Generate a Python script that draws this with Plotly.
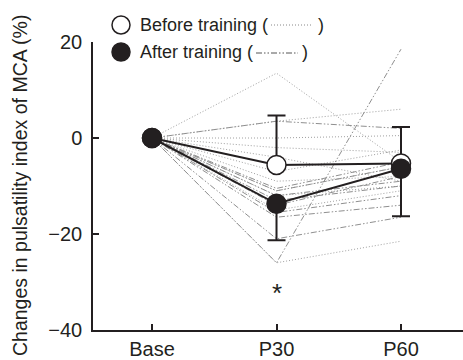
import plotly.graph_objects as go

categories = ["Base", "P30", "P60"]

# individual subjects (before training, dotted)
before_subjects = [
    [0, 13.5, -5],
    [0, 3.5, 6],
    [0, 0, 0.5],
    [0, -2, -3],
    [0, -4, -9],
    [0, -7, -2.5],
    [0, -9, -8],
    [0, -11, -6],
    [0, -12, -10],
    [0, -15, -11],
    [0, -26, -21.5],
]
# individual subjects (after training, dash-dot)
after_subjects = [
    [0, 3.5, 2],
    [0, -10.5, -5],
    [0, -11, -6],
    [0, -12, -9],
    [0, -13, -10],
    [0, -14, -8],
    [0, -15.5, -12],
    [0, -16.5, -14],
    [0, -21, -16.5],
    [0, -26, 18.5],
]

before_mean = [0, -5.6, -5.3]
before_err_up = [0, 10.3, 7.6]
after_mean = [0, -13.7, -6.4]
after_err_down = [0, 7.6, 9.9]

y_ticks = [20, 0, -20, -40]
y_tick_text = ["20", "0", "\u221220", "\u221240"]
y_title = "Changes in pulsatility index of MCA (%)"

FONT = "Arial, Liberation Sans, sans-serif"
INK = "#231f20"
BEFORE_DOT = "1px,2px"
AFTER_DASH = "6px,2px,1.5px,2px,1.5px,2px"

fig = go.Figure()

for s in before_subjects:
    fig.add_trace(go.Scatter(x=categories, y=s, mode="lines",
                             line=dict(color="#a0a0a0", width=1, dash=BEFORE_DOT),
                             showlegend=False, hoverinfo="skip"))
for s in after_subjects:
    fig.add_trace(go.Scatter(x=categories, y=s, mode="lines",
                             line=dict(color="#8f8f8f", width=1, dash=AFTER_DASH),
                             showlegend=False, hoverinfo="skip"))

# mean lines with error bars
fig.add_trace(go.Scatter(
    x=categories, y=before_mean, mode="lines+markers",
    line=dict(color=INK, width=2),
    marker=dict(size=19, color="white", line=dict(color=INK, width=1.5)),
    error_y=dict(type="data", symmetric=False, array=before_err_up,
                 arrayminus=[0, 0, 0], color=INK, thickness=2, width=9),
    showlegend=False))
fig.add_trace(go.Scatter(
    x=categories, y=after_mean, mode="lines+markers",
    line=dict(color=INK, width=2),
    marker=dict(size=19, color=INK, line=dict(color=INK, width=1.5)),
    error_y=dict(type="data", symmetric=False, array=[0, 0, 0],
                 arrayminus=after_err_down, color=INK, thickness=2, width=9),
    showlegend=False))

# significance marker
fig.add_annotation(x="P30", y=-32.3, text="*", showarrow=False,
                   font=dict(family=FONT, size=26, color=INK))


# pixel positions converted to paper coordinates
def px(xp):
    return (xp - 93) / 370


def py(yp):
    return 1 - (yp - 42) / 288


# y-axis title as rotated text
fig.add_annotation(xref="paper", yref="paper", x=px(20), y=py(186),
                   text=y_title, textangle=-90, showarrow=False,
                   xanchor="center", yanchor="middle",
                   font=dict(family=FONT, size=19.5, color=INK))

# custom legend
leg_rows = [("Before training (", 25, "white"),
            ("After training (", 52, INK)]
for text, ypx, fill in leg_rows:
    fig.add_shape(type="circle", xref="paper", yref="paper",
                  x0=px(112), x1=px(130), y0=py(ypx + 9), y1=py(ypx - 9),
                  fillcolor=fill, line=dict(color=INK, width=1.5))
    fig.add_annotation(xref="paper", yref="paper", x=px(138), y=py(ypx),
                       text=text, showarrow=False, xanchor="left", yanchor="middle",
                       font=dict(family=FONT, size=18, color=INK))

fig.add_shape(type="line", xref="paper", yref="paper",
              x0=px(271), x1=px(313), y0=py(25), y1=py(25),
              line=dict(color="#888888", width=1, dash=BEFORE_DOT))
fig.add_annotation(xref="paper", yref="paper", x=px(316), y=py(25),
                   text=")", showarrow=False, xanchor="left", yanchor="middle",
                   font=dict(family=FONT, size=18, color=INK))
fig.add_shape(type="line", xref="paper", yref="paper",
              x0=px(256), x1=px(298), y0=py(53), y1=py(53),
              line=dict(color="#555555", width=1, dash=AFTER_DASH))
fig.add_annotation(xref="paper", yref="paper", x=px(300), y=py(52),
                   text=")", showarrow=False, xanchor="left", yanchor="middle",
                   font=dict(family=FONT, size=18, color=INK))

fig.update_layout(
    width=463, height=360,
    margin=dict(l=93, r=0, t=42, b=30),
    paper_bgcolor="white", plot_bgcolor="white",
    font=dict(family=FONT, size=20, color=INK),
    xaxis=dict(type="category", range=[-0.474, 2.498], automargin=False,
               showline=True, linecolor=INK, linewidth=1.5,
               ticks="inside", ticklen=6, tickwidth=1.5, tickcolor=INK,
               showgrid=False, zeroline=False, ticklabelstandoff=0,
               tickfont=dict(family=FONT, size=20, color=INK)),
    yaxis=dict(range=[-40, 20], tickvals=y_ticks, ticktext=y_tick_text,
               automargin=False,
               showline=True, linecolor=INK, linewidth=1.5,
               ticks="inside", ticklen=6, tickwidth=1.5, tickcolor=INK,
               showgrid=False, zeroline=False, ticklabelstandoff=5,
               tickfont=dict(family=FONT, size=20, color=INK)),
)

fig.write_html("out.html", config={"displayModeBar": False},
               post_script="document.body.style.margin='0';document.body.style.overflow='hidden';")
